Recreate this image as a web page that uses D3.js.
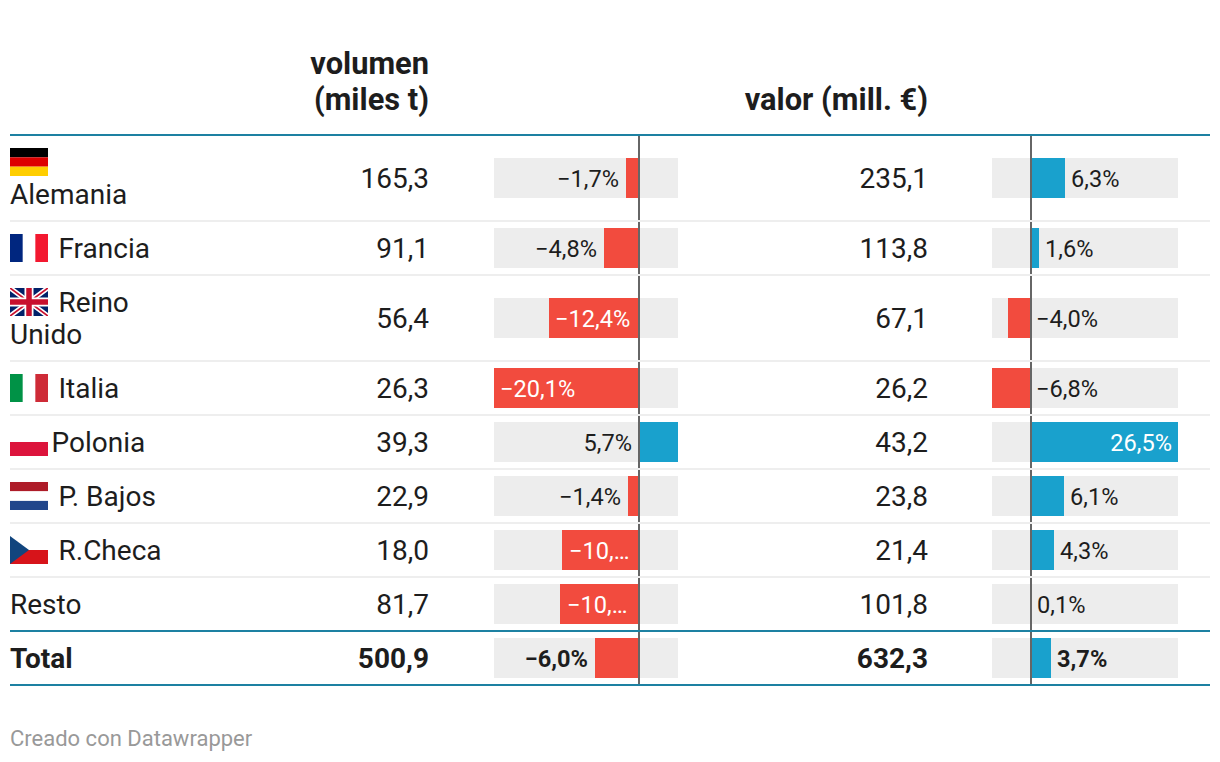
<!DOCTYPE html>
<html><head><meta charset="utf-8">
<script src="https://cdn.jsdelivr.net/npm/d3@7"></script>
<style>html,body{margin:0;padding:0;background:#fff}svg{display:block;font-family:Roboto,sans-serif}</style>
</head><body><svg id="c" width="1220" height="762"></svg>
<script>
const countries = ["Alemania","Francia","Reino Unido","Italia","Polonia","P. Bajos","R.Checa","Resto","Total"];
const flagCodes = ["de","fr","uk","it","pl","nl","cz",null,null];
const volume = [165.3,91.1,56.4,26.3,39.3,22.9,18.0,81.7,500.9];
const volumeChange = [-1.7,-4.8,-12.4,-20.1,5.7,-1.4,-10.6,-10.9,-6.0];
const amount = [235.1,113.8,67.1,26.2,43.2,23.8,21.4,101.8,632.3];
const amountChange = [6.3,1.6,-4.0,-6.8,26.5,6.1,4.3,0.1,3.7];
const headers = {volume:["volumen","(miles t)"],amount:["valor (mill. €)"]};
const footer = "Creado con Datawrapper";

const GREY="#ededed",RED="#f24b3e",BLUE="#19a1cd",TEAL="#1d81a2",RULE="#eeeeee",AXIS="#666666",INK="#1d1d1d";
const loc=d3.formatLocale({decimal:",",thousands:".",grouping:[3],currency:["","€"],minus:"\u2212"});
const f1=loc.format(".1f");
const svg=d3.select("#c");
const rowH=[86,54,86,54,54,54,54,54,54];
const tops=[135];rowH.forEach(h=>tops.push(tops[tops.length-1]+h));
const cy=i=>(tops[i]+tops[i+1])/2;
const x1=d3.scaleLinear().domain([d3.min(volumeChange),d3.max(volumeChange)]).range([494.4,678.4]);
const x2=d3.scaleLinear().domain([d3.min(amountChange),d3.max(amountChange)]).range([992,1178]);

// header
const hdr=(lines,x)=>lines.forEach((t,i)=>svg.append("text").attr("x",x).attr("y",110-(lines.length-1-i)*36)
  .attr("text-anchor","end").attr("font-size",30.8).attr("font-weight",700).attr("fill",INK).text(t));
hdr(headers.volume,429);hdr(headers.amount,928);

// bars
function bars(vals,xs,side){
  const x=v=>Math.round(xs(v));
  const z=x(0),[d0,d1]=xs.domain();
  vals.forEach((v,i)=>{
    const g=svg.append("g"),y=cy(i)-20,bold=i===8;
    g.append("rect").attr("x",x(d0)).attr("y",y).attr("width",x(d1)-x(d0)).attr("height",40).attr("fill",GREY);
    g.append("rect").attr("x",Math.min(x(v),z)).attr("y",y).attr("width",Math.abs(x(v)-z)).attr("height",40).attr("fill",v<0?RED:BLUE);
    let s=f1(v)+"%";
    const w=Math.abs(x(v)-z),inside=Math.abs(v)>=10,cut=inside&&w<84;
    if(cut) s=s.slice(0,4)+"…";
    const t=g.append("text").attr("y",cy(i)+8.5).attr("font-size",23.6).attr("font-weight",bold?700:400).attr("fill",inside?"#fff":INK).text(s);
    if(inside){
      if(v<0) t.attr("x",x(v)+(cut?7:6)).attr("text-anchor","start");
      else t.attr("x",x(v)-6).attr("text-anchor","end");
    } else if(side==="left"){
      if(v<0) t.attr("x",x(v)-7).attr("text-anchor","end");
      else t.attr("x",z-6).attr("text-anchor","end");
    } else {
      if(v<0) t.attr("x",z+6).attr("text-anchor","start");
      else t.attr("x",x(v)+6).attr("text-anchor","start");
    }
  });
}
bars(volumeChange,x1,"left");bars(amountChange,x2,"right");

// zero lines
[x1,x2].forEach(x=>{const p=Math.round(x(0))+1;svg.append("line").attr("x1",p).attr("x2",p).attr("y1",tops[0]).attr("y2",tops[9]).attr("stroke",AXIS).attr("stroke-width",2);});

// rules
tops.forEach((t,i)=>{
  const strong=i===0||i>=8;
  svg.append("line").attr("x1",10).attr("x2",1210).attr("y1",t).attr("y2",t).attr("stroke",strong?TEAL:RULE).attr("stroke-width",2);
});

// flags
function flag(code,x,y){
  const g=svg.append("g").attr("transform",`translate(${x},${y})`),W=38,H=28;
  const r=(a,b,c,d,f)=>g.append("rect").attr("x",a).attr("y",b).attr("width",c).attr("height",d).attr("fill",f);
  if(code==="de"){r(0,0,W,H/3,"#000");r(0,H/3,W,H/3,"#dd0000");r(0,2*H/3,W,H/3,"#ffce00");}
  if(code==="fr"){r(0,0,W/3,H,"#00267f");r(2*W/3,0,W/3,H,"#f31830");}
  if(code==="it"){r(0,0,W/3,H,"#009246");r(2*W/3,0,W/3,H,"#ce2b37");}
  if(code==="pl"){r(0,H/2,W,H/2,"#dc143c");}
  if(code==="nl"){r(0,0,W,H/3,"#ae1c28");r(0,2*H/3,W,H/3,"#21468b");r(0,H/3,W,H/3,"#fff");}
  if(code==="cz"){r(0,H/2,W,H/2,"#d7141a");g.append("path").attr("d",`M0 0L${W/2} ${H/2}L0 ${H}Z`).attr("fill","#11457e");}
  if(code==="uk"){
    r(0,0,W,H,"#012169");
    const l=(d,c,s)=>g.append("path").attr("d",d).attr("stroke",c).attr("stroke-width",s).attr("fill","none");
    const clip=g.append("clipPath").attr("id","ukc");clip.append("rect").attr("width",W).attr("height",H);
    const d=`M0 0L${W} ${H}M${W} 0L0 ${H}`;
    l(d,"#fff",5).attr("clip-path","url(#ukc)");l(d,"#c8102e",1.8).attr("clip-path","url(#ukc)");
    l(`M${W/2} 0V${H}M0 ${H/2}H${W}`,"#fff",9);l(`M${W/2} 0V${H}M0 ${H/2}H${W}`,"#c8102e",5.5);
  }
}

// rows
const fsRow=28;
countries.forEach((name,i)=>{
  const base=cy(i)+9.5,bold=i===8,code=flagCodes[i];
  const text=(x,y,s,anchor,b)=>svg.append("text").attr("x",x).attr("y",y).attr("text-anchor",anchor||"start").attr("font-size",fsRow).attr("font-weight",b?700:400).attr("fill",INK).text(s);
  if(code==="de"){flag(code,10,tops[i]+13);text(10,tops[i]+69,name);}
  else if(code==="uk"){flag(code,10,tops[i]+13);const p=name.split(" ");text(58.5,tops[i]+37,p[0]);text(10,tops[i]+69,p[1]);}
  else if(code==="pl"){flag(code,10,tops[i]+13);text(51.5,base,name);}
  else if(code){flag(code,10,tops[i]+13);text(58.5,base,name);}
  else text(10,base,name,"start",bold);
  text(429,base,f1(volume[i]),"end",bold);
  text(928,base,f1(amount[i]),"end",bold);
});
svg.append("text").attr("x",10).attr("y",746).attr("font-size",22).attr("fill","#999").text(footer);
</script></body></html>
